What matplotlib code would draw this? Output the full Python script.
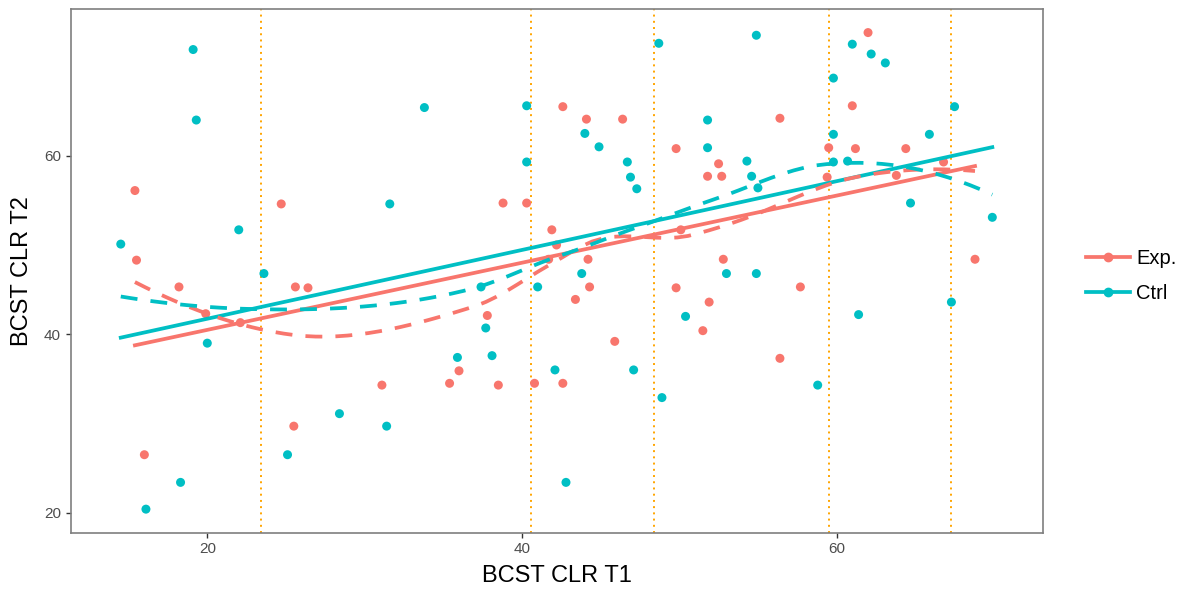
# BCST CLR T1 vs T2 散点图，线性拟合 + loess 平滑
import numpy as np
import matplotlib.pyplot as plt
from matplotlib.lines import Line2D

plt.rcParams['font.family'] = ['Liberation Sans', 'DejaVu Sans']

# Exp. 组
exp_t1 = [15.4, 24.7, 15.5, 18.2, 25.6, 26.4, 19.9, 22.1, 31.1, 25.5,
          16.0, 42.6, 44.1, 46.4, 49.8, 52.5, 51.8, 52.7, 38.8, 40.3,
          41.9, 42.2, 50.1, 44.2, 41.7, 44.3, 43.4, 49.8, 51.9, 51.5,
          37.8, 45.9, 36.0, 35.4, 38.5, 40.8, 42.6, 62.0, 61.0, 56.4,
          59.5, 61.2, 64.4, 66.8, 59.4, 63.8, 52.8, 68.8, 57.7, 56.4]
exp_t2 = [56.1, 54.6, 48.3, 45.3, 45.3, 45.2, 42.3, 41.3, 34.3, 29.7,
          26.5, 65.5, 64.1, 64.1, 60.8, 59.1, 57.7, 57.7, 54.7, 54.7,
          51.7, 50.0, 51.7, 48.4, 48.4, 45.3, 43.9, 45.2, 43.6, 40.4,
          42.1, 39.2, 35.9, 34.5, 34.3, 34.5, 34.5, 73.8, 65.6, 64.2,
          60.9, 60.8, 60.8, 59.3, 57.6, 57.8, 48.4, 48.4, 45.3, 37.3]

# Ctrl 组
ctrl_t1 = [19.1, 19.3, 31.6, 22.0, 14.5, 23.6, 20.0, 28.4, 31.4, 25.1,
           18.3, 16.1, 48.7, 33.8, 40.3, 51.8, 44.0, 44.9, 51.8, 40.3,
           46.7, 46.9, 47.3, 43.8, 53.0, 37.4, 41.0, 50.4, 37.7, 35.9,
           38.1, 42.1, 47.1, 48.9, 42.8, 54.9, 61.0, 62.2, 63.1, 59.8,
           67.5, 59.8, 65.9, 59.8, 60.7, 54.3, 54.6, 55.0, 64.7, 69.9,
           54.9, 61.4, 67.3, 58.8]
ctrl_t2 = [71.9, 64.0, 54.6, 51.7, 50.1, 46.8, 39.0, 31.1, 29.7, 26.5,
           23.4, 20.4, 72.6, 65.4, 65.6, 64.0, 62.5, 61.0, 60.9, 59.3,
           59.3, 57.6, 56.3, 46.8, 46.8, 45.3, 45.3, 42.0, 40.7, 37.4,
           37.6, 36.0, 36.0, 32.9, 23.4, 73.5, 72.5, 71.4, 70.4, 68.7,
           65.5, 62.4, 62.4, 59.3, 59.4, 59.4, 57.7, 56.4, 54.7, 53.1,
           46.8, 42.2, 43.6, 34.3]

# 竖直参考线
cut_t1 = [23.4, 40.6, 48.4, 59.5, 67.3]

groups = ['Exp.', 'Ctrl']
colors = {'Exp.': '#F8766D', 'Ctrl': '#00BFC4'}
data = {'Exp.': (np.array(exp_t1), np.array(exp_t2)),
        'Ctrl': (np.array(ctrl_t1), np.array(ctrl_t2))}


def local_fit(x, y, x0, q):
    # 局部二次加权回归 (tricube 权重)，返回拟合值和斜率
    d = np.abs(x - x0)
    h = np.sort(d)[q - 1]
    w = np.clip(1 - (d / h) ** 3, 0, None) ** 3
    X = np.column_stack([np.ones(len(x)), x - x0, (x - x0) ** 2])
    sw = np.sqrt(w)
    beta = np.linalg.lstsq(X * sw[:, None], y * sw, rcond=None)[0]
    return beta[0], beta[1]


def loess(x, y, xs, span=0.75, cell=0.2):
    # 类似 R 的 loess：kd 树顶点上拟合，再做三次 Hermite 插值
    n = len(x)
    q = int(np.floor(n * span))
    fc = int(np.floor(n * span * cell))
    xsort = np.sort(x)
    mu = 0.005 * (xsort[-1] - xsort[0])
    verts = [xsort[0] - mu, xsort[-1] + mu]

    def split(pts, lo, hi):
        k = len(pts)
        if k <= fc:
            return
        m = (k + 1) // 2
        off = 0
        while 0 < m + off < k and pts[m + off - 1] == pts[m + off]:
            off = -off if off > 0 else -off + 1
        m = m + off
        if m <= 0 or m >= k:
            return
        t = (pts[m - 1] + pts[m]) / 2
        if t <= lo or t >= hi:
            return
        verts.append(t)
        split(pts[:m], lo, t)
        split(pts[m:], t, hi)

    split(xsort, verts[0], verts[1])
    verts = np.sort(verts)
    vals = np.array([local_fit(x, y, v, q) for v in verts])

    out = []
    for x0 in xs:
        i = min(max(np.searchsorted(verts, x0) - 1, 0), len(verts) - 2)
        a, b = verts[i], verts[i + 1]
        hgt = b - a
        t = (x0 - a) / hgt
        h00 = 2 * t**3 - 3 * t**2 + 1
        h10 = t**3 - 2 * t**2 + t
        h01 = -2 * t**3 + 3 * t**2
        h11 = t**3 - t**2
        out.append(h00 * vals[i, 0] + h10 * hgt * vals[i, 1]
                   + h01 * vals[i + 1, 0] + h11 * hgt * vals[i + 1, 1])
    return np.array(out)


fig = plt.figure(figsize=(11.99, 5.90), dpi=100)
ax = fig.add_axes([0.059, 0.0971, 0.811, 0.887])

for v in cut_t1:
    ax.axvline(v, color='#FFA500', linestyle=(0, (1, 2.2)), linewidth=1.4, zorder=1)

for g in groups:
    x, y = data[g]
    ax.scatter(x, y, s=42, color=colors[g], edgecolors='none', zorder=2)

# 线性拟合（实线）
for g in groups:
    x, y = data[g]
    k, b = np.polyfit(x, y, 1)
    xs = np.array([x.min(), x.max()])
    ax.plot(xs, k * xs + b, color=colors[g], linewidth=2.7, zorder=3)

# loess 平滑（虚线）
for g in groups:
    x, y = data[g]
    xs = np.linspace(x.min(), x.max(), 80)
    ax.plot(xs, loess(x, y, xs), color=colors[g], linewidth=2.7,
            dashes=(4.5, 3.5), zorder=4)

ax.set_xlim(11.32, 73.13)
ax.set_ylim(17.76, 76.4)
ax.set_xticks([20, 40, 60])
ax.set_yticks([20, 40, 60])
ax.tick_params(colors='#333333', labelcolor='#4D4D4D', labelsize=11,
               length=3.5, width=1)
for s in ax.spines.values():
    s.set_color('#7F7F7F')
    s.set_linewidth(1.2)

ax.set_xlabel('BCST CLR T1', fontsize=17, labelpad=6)
ax.set_ylabel('BCST CLR T2', fontsize=17, labelpad=8)

handles = [Line2D([], [], color=colors[g], linewidth=2.7, marker='o',
                  markersize=6) for g in groups]
ax.legend(handles, groups, loc='center left', bbox_to_anchor=(1.025, 0.49),
          frameon=False, fontsize=14.5, handlelength=2.2, handletextpad=0.3,
          labelspacing=0.8)

plt.savefig('out.png', dpi=100)
